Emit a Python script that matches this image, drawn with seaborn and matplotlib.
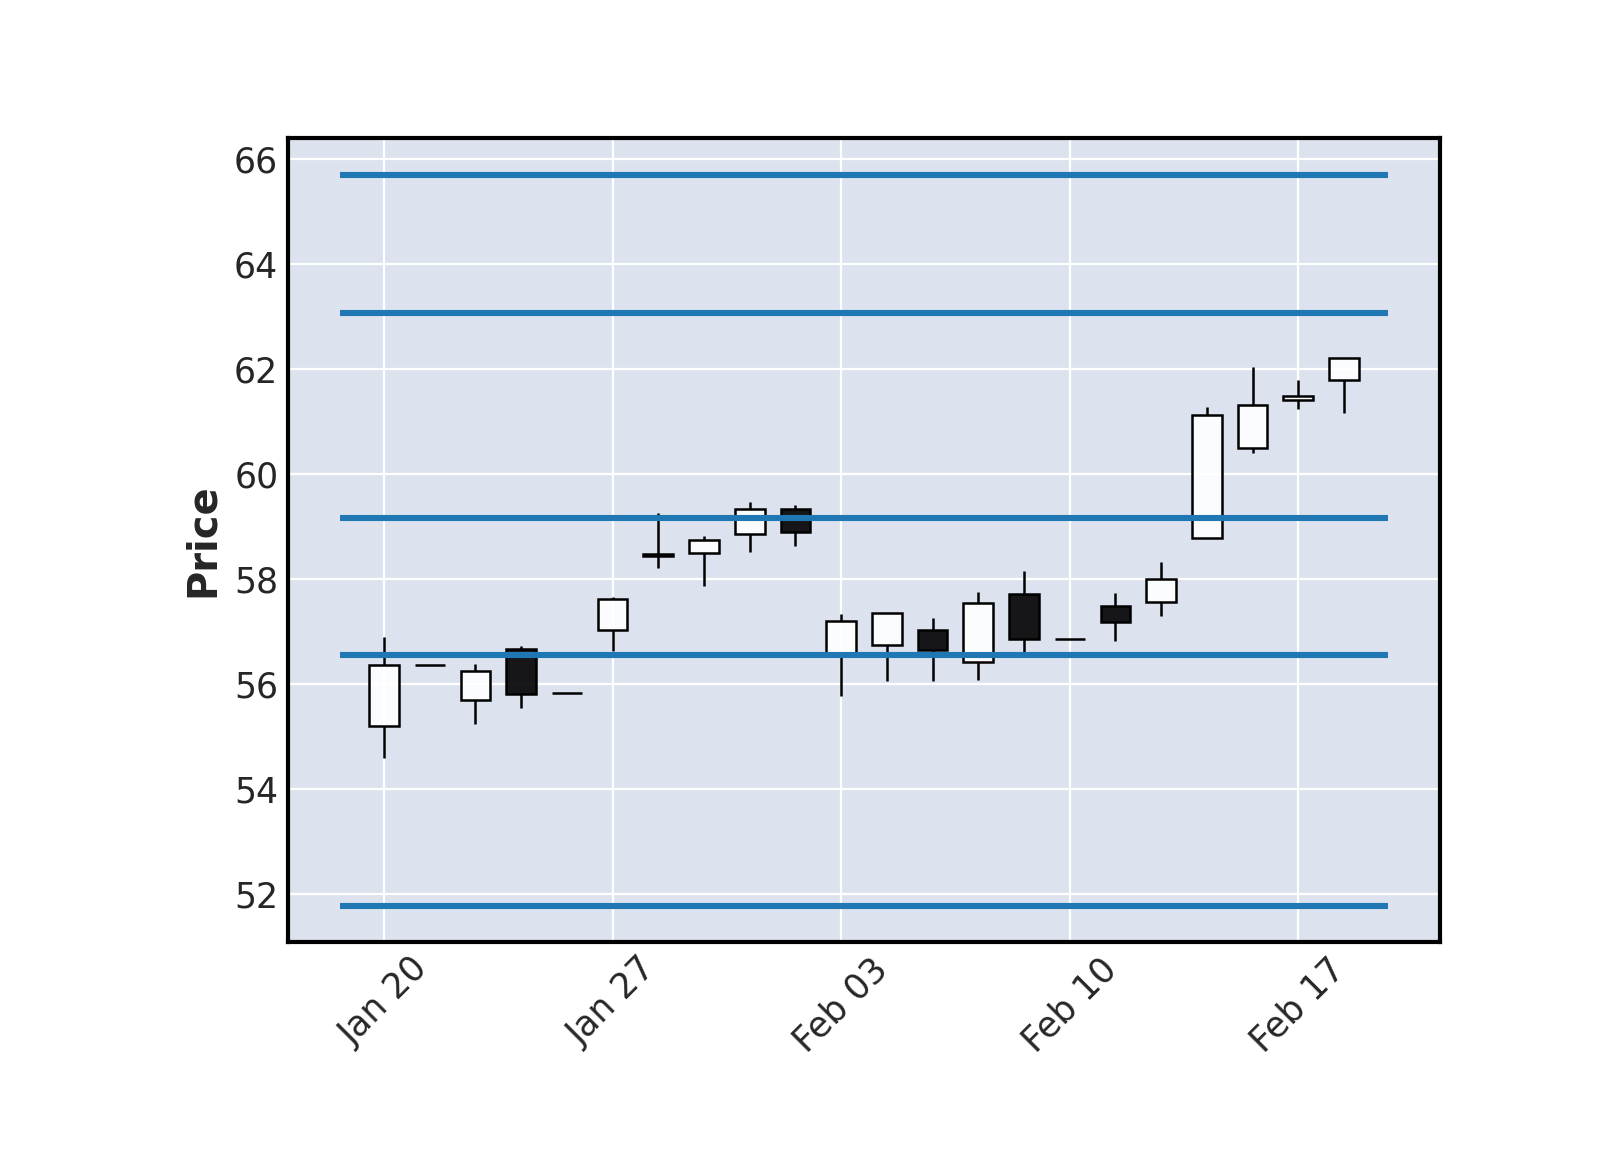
import numpy as np
import pandas as pd
import matplotlib
matplotlib.use("Agg")
import matplotlib.pyplot as plt
import seaborn as sns

# ---- data ----
dates = pd.bdate_range("2020-01-20", periods=22)
opens = [55.20, 56.35, 55.69, 56.66, 55.82, 57.03, 58.48, 58.50, 58.86, 59.33, 56.57,
         56.73, 57.03, 56.41, 57.70, 56.86, 57.48, 57.55, 58.77, 60.49, 61.40, 61.78]
highs = [56.89, 56.35, 56.37, 56.71, 55.82, 57.66, 59.26, 58.82, 59.46, 59.40, 57.32,
         57.34, 57.26, 57.75, 58.14, 56.86, 57.72, 58.32, 61.28, 62.03, 61.78, 62.21]
lows = [54.58, 56.35, 55.23, 55.53, 55.82, 56.63, 58.20, 57.86, 58.51, 58.62, 55.77,
        56.05, 56.05, 56.07, 56.57, 56.86, 56.82, 57.29, 58.77, 60.39, 61.23, 61.16]
closes = [56.35, 56.35, 56.24, 55.81, 55.82, 57.62, 58.44, 58.74, 59.33, 58.90, 57.20,
          57.34, 56.64, 57.53, 56.86, 56.86, 57.17, 58.00, 61.12, 61.31, 61.49, 62.21]
hline_levels = [65.70, 63.06, 59.15, 56.55, 51.77]
y_ticks = [52, 54, 56, 58, 60, 62, 64, 66]

df = pd.DataFrame({"Open": opens, "High": highs, "Low": lows, "Close": closes}, index=dates)

# ---- style ----
sns.set_theme(style="darkgrid", context="notebook")
plt.rcParams["font.family"] = ["DejaVu Sans"]
plt.rcParams["axes.facecolor"] = "#DCE3EF"
plt.rcParams["axes.edgecolor"] = "black"
plt.rcParams["axes.linewidth"] = 1.5
plt.rcParams["grid.color"] = "white"
plt.rcParams["grid.linewidth"] = 0.8

fig = plt.figure(figsize=(8, 5.75), dpi=200)
ax = fig.add_axes([0.18, 0.181, 0.72, 0.699])

x = np.arange(len(df))
o = df["Open"].values
c = df["Close"].values
h = df["High"].values
l = df["Low"].values
up = c >= o
body_lo = np.minimum(o, c)
body_hi = np.maximum(o, c)

# wicks
ax.vlines(x, body_hi, h, color="black", linewidth=0.9, zorder=2)
ax.vlines(x, l, body_lo, color="black", linewidth=0.9, zorder=2)

# bodies
face = [(1, 1, 1, 0.9) if u else (0, 0, 0, 0.9) for u in up]
ax.bar(x, body_hi - body_lo, bottom=body_lo, width=0.65, color=face,
       edgecolor="black", linewidth=0.9, zorder=3)

# horizontal lines
ax.hlines(hline_levels, -0.96, len(df) - 1 + 0.96, color="#1f77b4",
          linewidth=2.2, zorder=4)

ax.set_xlim(-2.1, len(df) - 1 + 2.1)
ax.set_ylim(51.08, 66.40)
ax.set_yticks(y_ticks)
ax.set_yticklabels([str(v) for v in y_ticks], fontsize=12.5)
tick_idx = x[::5]
ax.set_xticks(tick_idx)
ax.set_xticklabels([dates[i].strftime("%b %d") for i in tick_idx], rotation=45, fontsize=12.5)
ax.tick_params(axis="both", length=0, pad=3.5)
ax.set_ylabel("Price", fontsize=14.4, fontweight="bold", labelpad=4)
for s in ax.spines.values():
    s.set_visible(True)
    s.set_color("black")
    s.set_linewidth(1.5)
ax.grid(True, color="white", linewidth=0.8)

fig.savefig("out.png", dpi=200)
